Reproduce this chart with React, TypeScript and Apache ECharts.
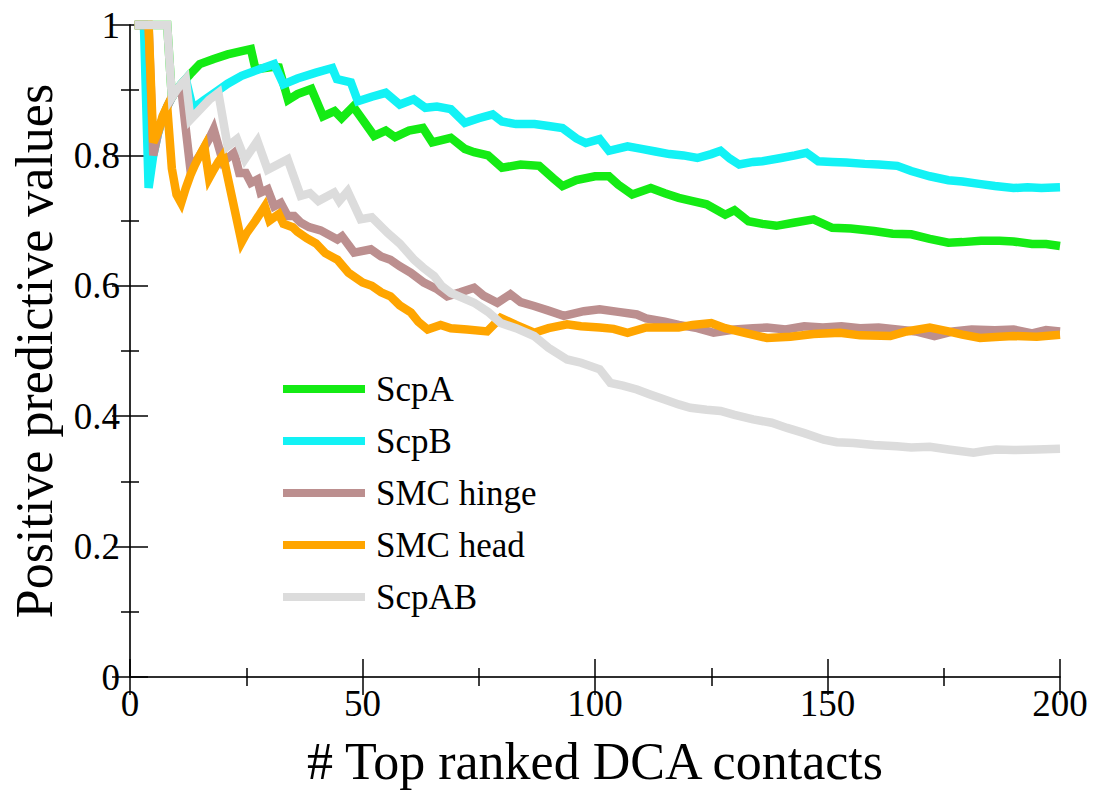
import React, { useEffect, useRef } from "react";
import * as echarts from "echarts";

// Positive predictive value vs. number of top ranked DCA contacts, as [n, PPV] vertices.
const scpA: [number, number][] = [
  [1, 1], [8, 1], [9, 0.889], [10, 0.9], [11, 0.909], [12, 0.917], [13, 0.925], [15, 0.94], [18, 0.948],
  [21, 0.955], [24, 0.96], [26, 0.963], [27, 0.932], [29, 0.934], [31, 0.936], [32, 0.935], [34, 0.885],
  [36, 0.894], [39, 0.902], [41.5, 0.86], [44, 0.868], [45.5, 0.857], [48, 0.875], [50, 0.855], [52.5, 0.83],
  [55, 0.838], [57, 0.828], [60, 0.838], [63, 0.842], [65, 0.82], [69, 0.827], [72, 0.81], [74, 0.805],
  [77, 0.8], [80, 0.781], [84, 0.786], [88, 0.784], [91, 0.765], [93, 0.753], [96, 0.762], [100, 0.768],
  [103, 0.768], [105, 0.755], [108, 0.74], [112, 0.75], [115, 0.742], [118, 0.735], [121, 0.73], [124, 0.725],
  [128, 0.709], [130, 0.716], [133, 0.699], [136, 0.695], [139, 0.692], [143, 0.697], [147, 0.702],
  [151, 0.689], [155, 0.688], [160, 0.684], [164, 0.68], [168, 0.679], [172, 0.672], [176, 0.666],
  [179, 0.667], [183, 0.669], [187, 0.669], [190, 0.668], [194, 0.664], [197, 0.664], [200, 0.661],
];

const scpB: [number, number][] = [
  [1, 1], [3, 1], [4, 0.75], [5, 0.8], [6, 0.833], [7, 0.857], [8, 0.875], [9, 0.889], [10, 0.9], [11, 0.909],
  [12, 0.917], [13.5, 0.872], [16, 0.885], [19, 0.9], [21, 0.91], [24, 0.922], [27, 0.93], [31, 0.94],
  [33, 0.909], [36, 0.918], [40, 0.927], [43.5, 0.934], [44.5, 0.917], [47.5, 0.912], [49, 0.883],
  [52, 0.89], [55, 0.896], [58, 0.878], [61, 0.886], [63.5, 0.873], [66, 0.875], [69, 0.871], [72, 0.85],
  [75, 0.857], [78, 0.863], [80, 0.852], [83, 0.848], [87, 0.848], [90, 0.845], [93, 0.842], [96, 0.826],
  [98, 0.819], [101, 0.825], [103, 0.807], [107, 0.814], [110, 0.81], [113, 0.806], [116, 0.802],
  [119, 0.8], [122, 0.796], [125, 0.802], [127, 0.807], [129, 0.795], [131, 0.786], [134, 0.79],
  [136, 0.791], [140, 0.796], [143, 0.8], [145.5, 0.804], [148, 0.791], [151, 0.79], [154, 0.789],
  [158, 0.787], [161, 0.786], [165, 0.784], [168, 0.776], [172, 0.768], [176, 0.762], [179, 0.76],
  [183, 0.756], [186, 0.753], [190, 0.75], [193, 0.751], [196, 0.75], [200, 0.751],
];

const smcHinge: [number, number][] = [
  [1, 1], [4, 1], [5, 0.8], [6, 0.833], [7, 0.857], [8, 0.875], [9, 0.889], [10, 0.9], [11, 0.905],
  [12, 0.84], [13, 0.778], [15, 0.8], [17, 0.825], [18, 0.84], [20, 0.79], [22.4, 0.804], [23.5, 0.773],
  [24.9, 0.773], [26, 0.758], [27.4, 0.763], [28.1, 0.743], [29.6, 0.748], [31, 0.722], [32.4, 0.727],
  [33.9, 0.707], [35.3, 0.707], [36.7, 0.697], [38.5, 0.69], [41, 0.685], [44.6, 0.671], [45.6, 0.676],
  [48.2, 0.651], [51.8, 0.656], [54, 0.645], [56, 0.64], [58, 0.63], [60.4, 0.62], [63.2, 0.605],
  [66, 0.595], [68.2, 0.584], [71, 0.59], [74, 0.597], [76, 0.585], [79, 0.574], [81.8, 0.587],
  [84, 0.575], [86.9, 0.569], [90, 0.562], [93.3, 0.554], [97.6, 0.561], [101, 0.564], [105, 0.56],
  [109, 0.556], [111, 0.55], [115, 0.545], [118, 0.54], [122, 0.535], [125.5, 0.528], [130, 0.533],
  [134, 0.535], [137, 0.536], [141, 0.533], [145, 0.538], [149, 0.536], [153, 0.538], [157, 0.535],
  [161, 0.536], [165, 0.533], [169, 0.53], [173, 0.523], [177, 0.53], [181, 0.533], [186, 0.532],
  [190, 0.533], [194, 0.527], [197, 0.532], [200, 0.53],
];

const smcHead: [number, number][] = [
  [1, 1], [4, 1], [5, 0.82], [6, 0.835], [7, 0.86], [8, 0.875], [9, 0.78], [10, 0.74], [11, 0.727],
  [12, 0.75], [13, 0.77], [14, 0.786], [15, 0.8], [16, 0.813], [17, 0.765], [18, 0.778], [19, 0.79],
  [20, 0.8], [24, 0.667], [25, 0.68], [27, 0.7], [29, 0.722], [30, 0.7], [32, 0.71], [33, 0.695],
  [35, 0.69], [36, 0.683], [38, 0.673], [40, 0.665], [42, 0.65], [44.6, 0.64], [47, 0.62], [50, 0.605],
  [52, 0.6], [54, 0.59], [56, 0.584], [58, 0.57], [60.4, 0.559], [62, 0.545], [64, 0.533], [66.8, 0.54],
  [69, 0.535], [72.5, 0.533], [76.8, 0.53], [79.7, 0.551], [83, 0.54], [86.9, 0.528], [90, 0.535],
  [94, 0.541], [97, 0.538], [101, 0.536], [104, 0.534], [107, 0.528], [111, 0.536], [115, 0.536],
  [118, 0.536], [121, 0.54], [125, 0.543], [128, 0.535], [132, 0.528], [137, 0.52], [142, 0.522],
  [147, 0.526], [152.7, 0.528], [157, 0.524], [163.5, 0.523], [167, 0.53], [172, 0.536], [176, 0.53],
  [179, 0.525], [182.8, 0.52], [187, 0.522], [190, 0.523], [195, 0.522], [200, 0.525],
];

const scpAB: [number, number][] = [
  [1, 1], [8, 1], [9, 0.889], [10, 0.9], [11, 0.909], [12, 0.917], [13, 0.855], [15, 0.87], [17, 0.885],
  [19, 0.896], [21, 0.814], [23, 0.825], [24.7, 0.794], [27.4, 0.822], [29.6, 0.778], [33.9, 0.794],
  [36.7, 0.738], [38.7, 0.742], [40.5, 0.73], [43.9, 0.743], [45, 0.73], [46.8, 0.745], [49.6, 0.702],
  [52, 0.705], [55.4, 0.681], [58, 0.665], [61.1, 0.64], [63, 0.628], [65.4, 0.615], [67, 0.6], [69, 0.589],
  [71, 0.583], [74, 0.574], [77, 0.56], [79.7, 0.543], [83, 0.535], [86.9, 0.523], [90, 0.505], [94, 0.487],
  [97, 0.482], [101, 0.472], [103.3, 0.451], [106, 0.447], [109, 0.441], [112, 0.433], [114.8, 0.426],
  [118, 0.418], [120.5, 0.413], [124, 0.41], [127, 0.408], [130, 0.402], [134, 0.395], [138, 0.39],
  [141.3, 0.382], [145, 0.374], [149.2, 0.364], [152, 0.36], [155.6, 0.359], [160, 0.356], [164.9, 0.354],
  [168, 0.352], [172, 0.353], [176, 0.349], [181.4, 0.344], [184, 0.347], [186.3, 0.349], [190, 0.348],
  [195, 0.349], [200, 0.35],
];

const seriesNames = ["ScpA", "ScpB", "SMC hinge", "SMC head", "ScpAB"];
const seriesData = [scpA, scpB, smcHinge, smcHead, scpAB];
const seriesColors = ["#14eb14", "#12f2f5", "#bc8f8f", "#ffa500", "#dcdcdc"];

const xTicks = { min: 0, max: 200, interval: 50 };
const yTicks = { min: 0, max: 1, interval: 0.2 };

const FONT = "Liberation Serif";

export default function App() {
  const ref = useRef<HTMLDivElement>(null);

  useEffect(() => {
    if (!ref.current) return;
    const chart = echarts.init(ref.current, undefined, { renderer: "svg" });

    const tickStyle = { color: "#000", width: 1.5 };
    const baseX = {
      type: "value" as const,
      min: xTicks.min,
      max: xTicks.max,
      interval: xTicks.interval,
      splitLine: { show: false },
      axisLine: { show: true, lineStyle: { color: "#222", width: 1.5 } },
      axisTick: { show: true, inside: true, length: 18, lineStyle: tickStyle },
      minorTick: { show: true, splitNumber: 2, length: 9, lineStyle: tickStyle },
    };
    const baseY = {
      type: "value" as const,
      min: yTicks.min,
      max: yTicks.max,
      interval: yTicks.interval,
      splitLine: { show: false },
      axisLine: { show: true, lineStyle: { color: "#222", width: 1.5 } },
      axisTick: { show: true, inside: true, length: 18, lineStyle: tickStyle },
      minorTick: { show: true, splitNumber: 2, length: 9, lineStyle: tickStyle },
    };

    chart.setOption({
      animation: false,
      backgroundColor: "#fff",
      grid: { left: 129, right: 33, top: 25, bottom: 115, containLabel: false },
      legend: {
        orient: "vertical",
        left: 278,
        top: 362,
        icon: "rect",
        itemWidth: 82,
        itemHeight: 8,
        itemGap: 8,
        data: seriesNames,
        textStyle: {
          fontFamily: FONT,
          fontSize: 35,
          color: "#000",
          lineHeight: 44,
          padding: [0, 0, 0, 6],
        },
      },
      xAxis: [
        {
          ...baseX,
          position: "bottom",
          name: "# Top ranked DCA contacts",
          nameLocation: "middle",
          nameGap: 58,
          nameTextStyle: { fontFamily: FONT, fontSize: 52, color: "#000" },
          axisLabel: { fontFamily: FONT, fontSize: 37, color: "#000", margin: 8 },
        },
        { ...baseX, position: "top", axisLabel: { show: false } },
      ],
      yAxis: [
        {
          ...baseY,
          position: "left",
          name: "Positive predictive values",
          nameLocation: "middle",
          nameGap: 70,
          nameTextStyle: { fontFamily: FONT, fontSize: 52, color: "#000" },
          axisLabel: { fontFamily: FONT, fontSize: 37, color: "#000", margin: 10 },
        },
        { ...baseY, position: "right", axisLabel: { show: false } },
      ],
      series: seriesNames.map((name, i) => ({
        name,
        type: "line",
        data: seriesData[i],
        showSymbol: false,
        symbol: "none",
        color: seriesColors[i],
        lineStyle: { color: seriesColors[i], width: 8.5, join: "miter", cap: "butt" },
        clip: false,
        z: 2 + i,
      })),
    });

    return () => chart.dispose();
  }, []);

  return (
    <div
      ref={ref}
      style={{ position: "fixed", left: 0, top: 0, width: 1093, height: 792, background: "#fff" }}
    />
  );
}
